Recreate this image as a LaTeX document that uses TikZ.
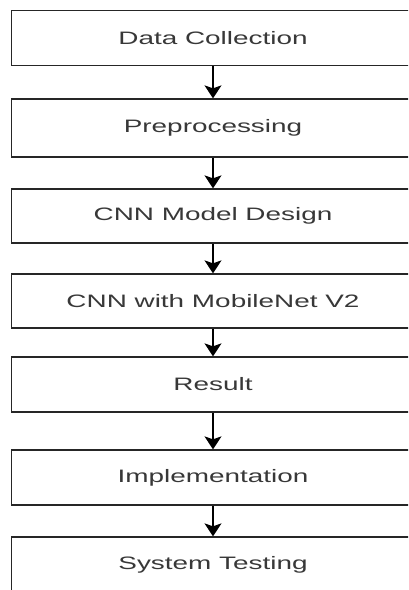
\documentclass[tikz,border=0pt]{standalone}
\usepackage{fontspec}
\newfontfamily\boxfont[FakeStretch=1.55]{Liberation Sans}
\usetikzlibrary{arrows.meta}
\definecolor{txtgray}{rgb}{0.22,0.22,0.22}
\definecolor{linegray}{rgb}{0.15,0.15,0.15}
\begin{document}
\begin{tikzpicture}[x=1pt,y=-1pt,
  stepbox/.style={draw=linegray,line width=1.3pt,minimum width=403pt,inner sep=0pt,
    font=\boxfont\fontsize{18pt}{20pt}\selectfont,text=txtgray},
  arr/.style={draw=black,line width=1.3pt,-{Stealth[length=13pt,width=17pt,inset=3pt]}}]
\useasboundingbox (0,0) rectangle (408,590);
\clip (0,0) rectangle (408,590);
\fill[white] (0,0) rectangle (408,590);
\node[stepbox,minimum height=55pt] (b1) at (213,38) {Data Collection};
\node[stepbox,minimum height=58pt] (b2) at (213,128) {Preprocessing};
\node[stepbox,minimum height=54pt] (b3) at (213,216) {CNN Model Design};
\node[stepbox,minimum height=54pt] (b4) at (213,301) {CNN with MobileNet V2};
\node[stepbox,minimum height=55pt] (b5) at (213,384.5) {Result};
\node[stepbox,minimum height=55pt] (b6) at (213,477.5) {Implementation};
\node[stepbox,minimum height=55pt] (b7) at (213,564.5) {System Testing};
\draw[arr] (b1.south) -- (b2.north);
\draw[arr] (b2.south) -- (b3.north);
\draw[arr] (b3.south) -- (b4.north);
\draw[arr] (b4.south) -- (b5.north);
\draw[arr] (b5.south) -- (b6.north);
\draw[arr] (b6.south) -- (b7.north);
\end{tikzpicture}
\end{document}
